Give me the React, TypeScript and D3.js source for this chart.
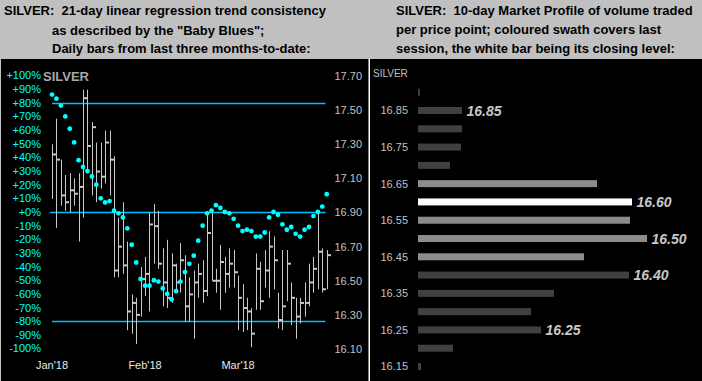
import React from "react";
import * as d3 from "d3";

const W = 702;
const H = 381;

// ---- Left panel data: daily bars (price) ----
const highs = [17.30, 17.45, 17.21, 17.12, 17.13, 17.10, 17.13, 17.62, 17.62, 17.43, 17.31, 17.31, 17.38, 17.38, 17.23, 16.87, 16.96, 16.73, 16.42, 16.40, 16.58, 16.64, 16.90, 16.95, 16.91, 16.69, 16.74, 16.66, 16.60, 16.72, 16.65, 16.52, 16.56, 16.60, 16.62, 16.90, 16.90, 16.57, 16.71, 16.64, 16.69, 16.68, 16.53, 16.48, 16.40, 16.34, 16.66, 16.61, 16.68, 16.79, 16.76, 16.43, 16.68, 16.68, 16.49, 16.40, 16.40, 16.49, 16.60, 16.64, 16.90, 16.69, 16.68];
const lows = [16.98, 16.81, 16.94, 16.91, 16.90, 16.94, 16.73, 16.87, 17.13, 17.00, 16.96, 17.04, 17.07, 17.00, 16.52, 16.52, 16.54, 16.21, 16.19, 16.13, 16.29, 16.41, 16.32, 16.60, 16.57, 16.35, 16.34, 16.37, 16.43, 16.43, 16.26, 16.26, 16.16, 16.40, 16.37, 16.41, 16.50, 16.43, 16.33, 16.43, 16.46, 16.46, 16.21, 16.20, 16.21, 16.11, 16.33, 16.33, 16.46, 16.40, 16.45, 16.22, 16.21, 16.38, 16.24, 16.16, 16.25, 16.29, 16.35, 16.43, 16.45, 16.43, 16.45];
const closes = [17.24, 17.21, 17.00, 16.96, 17.03, 17.01, 17.05, 17.57, 17.29, 17.40, 17.14, 17.11, 17.31, 17.21, 16.56, 16.70, 16.59, 16.32, 16.37, 16.30, 16.51, 16.54, 16.83, 16.82, 16.60, 16.49, 16.40, 16.59, 16.49, 16.62, 16.35, 16.42, 16.49, 16.54, 16.44, 16.78, 16.50, 16.50, 16.61, 16.54, 16.60, 16.55, 16.40, 16.34, 16.32, 16.19, 16.57, 16.38, 16.56, 16.70, 16.62, 16.27, 16.35, 16.60, 16.40, 16.29, 16.37, 16.37, 16.49, 16.57, 16.67, 16.45, 16.65];
// 21-day linear regression trend consistency ("Baby Blues"), percent
const trend = [86, 83, 78, 70, 61, 51, 38, 33, 30, 26, 20, 10, 7, 8, 1, -1, -4, -12, -24, -37, -49, -54, -54, -50, -51, -56, -60, -64, -58, -51, -44, -38, -32, -21, -10, -1, 1, 5, 3, 0, -1, -5, -10, -14, -13, -14, -18, -18, -15, -4, 0, -2, -9, -13, -11, -16, -18, -13, -11, -3, 0, 4, 13];

const pctTicks = [100, 90, 80, 70, 60, 50, 40, 30, 20, 10, 0, -10, -20, -30, -40, -50, -60, -70, -80, -90, -100];
const pctLines = [80, 0, -80];
const priceTicks = [17.7, 17.5, 17.3, 17.1, 16.9, 16.7, 16.5, 16.3, 16.1];
const monthLabels = ["Jan'18", "Feb'18", "Mar'18"];
const monthStartIdx = [0, 21, 42];

// ---- Right panel data: 10-day market profile ----
const profileLevels = [16.90, 16.85, 16.80, 16.75, 16.70, 16.65, 16.60, 16.55, 16.50, 16.45, 16.40, 16.35, 16.30, 16.25, 16.20, 16.15];
const profileVolume = [2, 44, 44, 43, 32, 179, 214, 212, 229, 166, 211, 136, 113, 123, 35, 3];
// 0 = prior sessions, 1 = last session swath, 2 = closing level
const profileKind = [0, 0, 0, 0, 0, 1, 2, 1, 1, 1, 0, 0, 0, 0, 0, 0];
const profileAxisLabels = [16.85, 16.75, 16.65, 16.55, 16.45, 16.35, 16.25, 16.15];
const profileCallouts = [16.85, 16.60, 16.50, 16.40, 16.25];

const leftHeader = [
  "SILVER:\u00a0\u00a021-day linear regression trend consistency",
  "as described by the \"Baby Blues\";",
  "Daily bars from last three months-to-date:",
];
const rightHeader = [
  "SILVER:\u00a0\u00a010-day Market Profile of volume traded",
  "per price point; coloured swath covers last",
  "session, the white bar being its closing level:",
];

const FONT = "'Liberation Sans', Arial, Helvetica, sans-serif";
const CYAN_LINE = "#00bfff";
const CYAN = "#00ffff";
const BAR = "#c8c8c8";

export default function App() {
  const n = highs.length;
  const x = d3.scaleLinear().domain([0, n - 1]).range([52, 326.7]);
  const yPrice = d3.scaleLinear().domain([16.1, 17.7]).range([349, 76]);
  const yPct = d3.scaleLinear().domain([-100, 100]).range([348.5, 75.5]);

  const yProf = d3.scaleLinear().domain([16.15, 16.85]).range([366.5, 110.5]);
  const xProf = d3.scaleLinear().domain([0, 240]).range([418, 658]);
  const profColor = ["#404040", "#8c8c8c", "#ffffff"];
  const fmt = d3.format(".2f");

  const px = (i: number) => Math.round(x(i)) + 0.5;

  return (
    <svg
      width={W}
      height={H}
      style={{ position: "absolute", left: 0, top: 0, display: "block" }}
      fontFamily={FONT}
    >
      {/* header */}
      <rect x={0} y={0} width={W} height={H} fill="#c0c0c0" />
      {leftHeader.map((t, i) => (
        <text key={"lh" + i} x={i === 0 ? 4 : 52} y={[15, 35, 53][i]} fontSize={13} fontWeight="bold" fill="#000">
          {t}
        </text>
      ))}
      {rightHeader.map((t, i) => (
        <text key={"rh" + i} x={396} y={[15, 34, 53][i]} fontSize={13} fontWeight="bold" fill="#000">
          {t}
        </text>
      ))}

      {/* panels */}
      <rect x={1} y={59} width={W - 1} height={H - 59} fill="#000" />
      <rect x={368.5} y={59} width={1.5} height={H - 59} fill="#ffffff" />

      {/* left panel: percent axis labels */}
      {pctTicks.map((p) => (
        <text
          key={"pt" + p}
          x={41}
          y={yPct(p)}
          dy="0.36em"
          textAnchor="end"
          fontSize={11}
          fill={CYAN}
        >
          {(p > 0 ? "+" : p === 0 ? "+" : "") + p + "%"}
        </text>
      ))}
      <text x={43} y={80.5} fontSize={13} fontWeight="bold" fill="#a8a8a8">SILVER</text>

      {/* price axis labels */}
      {priceTicks.map((p) => (
        <text key={"pr" + p} x={362} y={yPrice(p)} dy="0.36em" textAnchor="end" fontSize={11} fill="#c0c0c0">
          {fmt(p)}
        </text>
      ))}

      {/* month labels */}
      {monthLabels.map((m, i) => (
        <text key={m} x={x(monthStartIdx[i])} y={369} textAnchor="middle" fontSize={11} fill="#e8e8e8">
          {m}
        </text>
      ))}

      {/* reference lines */}
      {pctLines.map((p) => (
        <line
          key={"pl" + p}
          x1={p === 0 ? 50 : 52}
          x2={325.5}
          y1={Math.round(yPct(p)) + 0.5}
          y2={Math.round(yPct(p)) + 0.5}
          stroke={CYAN_LINE}
          strokeWidth={1.3}
        />
      ))}

      {/* OHLC-style bars */}
      {highs.map((h, i) => (
        <g key={"b" + i}>
          <line x1={px(i)} x2={px(i)} y1={yPrice(h)} y2={yPrice(lows[i])} stroke={BAR} strokeWidth={1} />
          <line
            x1={px(i)}
            x2={px(i) + 3.5}
            y1={yPrice(closes[i])}
            y2={yPrice(closes[i])}
            stroke={BAR}
            strokeWidth={2}
          />
        </g>
      ))}

      {/* trend dots */}
      {trend.map((t, i) => (
        <circle key={"d" + i} cx={x(i)} cy={yPct(t)} r={2.4} fill={CYAN} />
      ))}

      {/* right panel */}
      <text x={373} y={77} fontSize={10} fill="#c0c0c0">SILVER</text>
      {profileAxisLabels.map((p) => (
        <text key={"pa" + p} x={408} y={yProf(p)} dy="0.36em" textAnchor="end" fontSize={11} fill="#c0c0c0">
          {fmt(p)}
        </text>
      ))}
      {profileLevels.map((p, i) => (
        <rect
          key={"pb" + p}
          x={xProf(0)}
          y={yProf(p) - 3.5}
          width={xProf(profileVolume[i]) - xProf(0)}
          height={7}
          fill={profColor[profileKind[i]]}
        />
      ))}
      {profileCallouts.map((p) => {
        const i = profileLevels.findIndex((l) => Math.abs(l - p) < 1e-6);
        return (
          <text
            key={"pc" + p}
            x={xProf(profileVolume[i]) + 4.5}
            y={yProf(p)}
            dy="0.36em"
            fontSize={14}
            fontWeight="bold"
            fontStyle="italic"
            fill="#c8c8c8"
          >
            {fmt(p)}
          </text>
        );
      })}
    </svg>
  );
}
